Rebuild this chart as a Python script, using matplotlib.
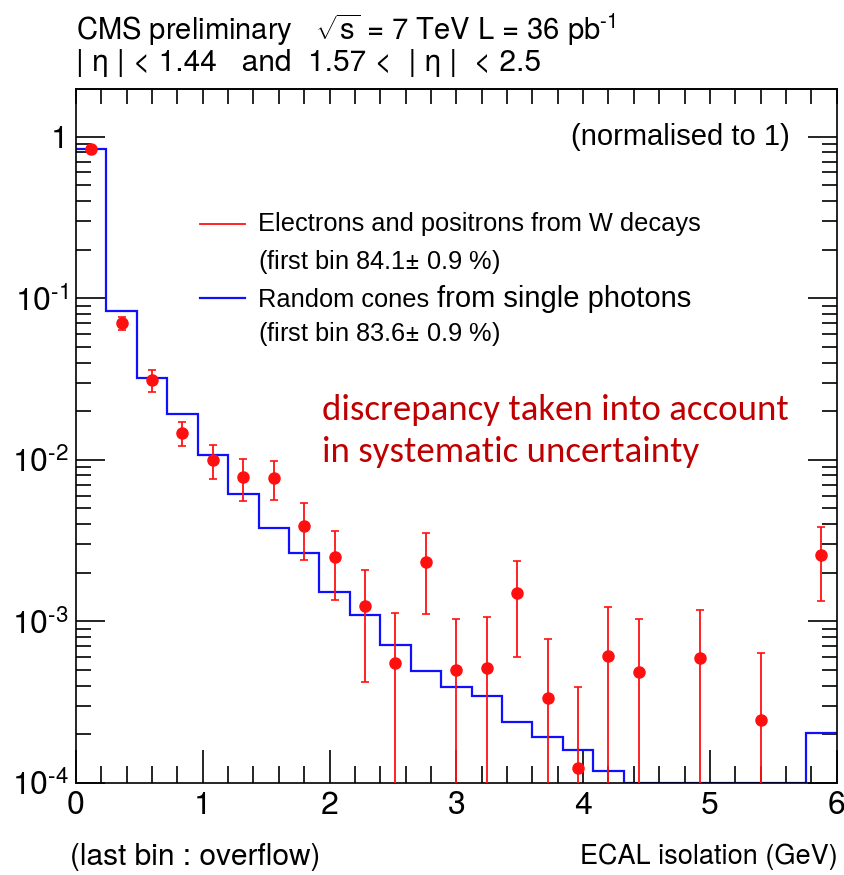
import numpy as np
import matplotlib
matplotlib.use("Agg")
import matplotlib.pyplot as plt
from matplotlib.ticker import FixedLocator, FixedFormatter, LogLocator, NullFormatter, MultipleLocator

# ---------------- data ----------------
bin_edges = np.round(np.arange(0, 6.0001, 0.24), 2)
bin_centers = (bin_edges[:-1] + bin_edges[1:]) / 2

# Electrons/positrons from W decays (red points); zero -> no point
red_vals = [0.841, 0.0703, 0.0312, 0.0147, 0.00997, 0.00787, 0.00776, 0.00390,
            0.00250, 0.00125, 0.000551, 0.00232, 0.000501, 0.000518, 0.00149,
            0.000338, 0.000124, 0.000614, 0.000485, 0.0, 0.000592, 0.0,
            0.000245, 0.0, 0.00258]
red_errs = [0.009, 0.0066, 0.0048, 0.0025, 0.0024, 0.0023, 0.0021, 0.0015,
            0.00115, 0.00083, 0.00058, 0.0012, 0.00053, 0.00055, 0.00089,
            0.00044, 0.00027, 0.00061, 0.00055, 0.0, 0.00059, 0.0,
            0.00039, 0.0, 0.00125]

# Random cones from single photons (blue histogram)
blue_vals = [0.836, 0.0838, 0.0323, 0.0192, 0.01067, 0.00612, 0.00377, 0.00264,
             0.00152, 0.00110, 0.000716, 0.000496, 0.000395, 0.000348, 0.000240,
             0.000194, 0.000160, 0.000119, 0.0, 0.0, 0.0, 0.0, 0.0, 0.0, 0.000205]

x_ticks = [0, 1, 2, 3, 4, 5, 6]
y_ticks = [1e-4, 1e-3, 1e-2, 1e-1, 1]
y_exps = [-4, -3, -2, -1, 0]

YMIN, YMAX = 1e-4, 1.96

# ---------------- style ----------------
HEL = ["TeX Gyre Heros", "Liberation Sans", "DejaVu Sans"]
ARIAL = ["Liberation Sans", "DejaVu Sans"]
CALIBRI = ["Carlito", "Lato", "DejaVu Sans"]
plt.rcParams["font.family"] = HEL
plt.rcParams["mathtext.fontset"] = "custom"
plt.rcParams["mathtext.rm"] = "TeX Gyre Heros"
plt.rcParams["mathtext.it"] = "TeX Gyre Heros:italic"
plt.rcParams["mathtext.bf"] = "TeX Gyre Heros:bold"

RED = "#ff1010"
BLUE = "#1010ff"

fig = plt.figure(figsize=(8.45, 8.75), dpi=100)
ax = fig.add_axes([76/845, 1-783.1/875, 760.7/845, 693.8/875])

# blue histogram
blue_plot = np.clip(np.array(blue_vals), YMIN, None)
ax.stairs(blue_plot, bin_edges, baseline=None, color=BLUE, lw=1.6, zorder=2)

# red points
rv = np.array(red_vals)
re = np.array(red_errs)
mask = rv > 0
lower = np.minimum(re[mask], rv[mask] - 1e-9)
ax.errorbar(bin_centers[mask], rv[mask], yerr=[lower, re[mask]], fmt="o",
            color=RED, ecolor=RED, ms=8, elinewidth=1.3,
            capsize=3, capthick=1.2, zorder=3)

ax.set_yscale("log")
ax.set_xlim(0, 6)
ax.set_ylim(YMIN, YMAX)


def ylabels(use_text):
    out = []
    for e in y_exps:
        if e == 0:
            out.append("1")
        elif use_text:
            out.append(r"$\mathregular{10^{\text{-}%d}}$" % (-e))
        else:
            out.append(r"$\mathregular{10^{%d}}$" % e)
    return out


ax.yaxis.set_major_locator(FixedLocator(y_ticks))
ax.yaxis.set_major_formatter(FixedFormatter(ylabels(True)))
ax.yaxis.set_minor_locator(LogLocator(base=10, subs=np.arange(2, 10)))
ax.yaxis.set_minor_formatter(NullFormatter())
ax.xaxis.set_major_locator(FixedLocator(x_ticks))
ax.xaxis.set_minor_locator(MultipleLocator(0.2))

ax.tick_params(axis="both", which="both", direction="in", color="black")
ax.tick_params(axis="y", which="major", length=21, width=1.2, right=True, labelsize=23, pad=5.5)
ax.tick_params(axis="y", which="minor", length=11, width=1.2, right=True)
ax.tick_params(axis="x", which="major", length=24, width=1.2, top=False, labelsize=23, pad=6)
ax.tick_params(axis="x", which="minor", length=12, width=1.2, top=False)

# top ticks all the same short length
sec = ax.secondary_xaxis("top")
sec.xaxis.set_major_locator(MultipleLocator(0.2))
sec.tick_params(direction="in", length=11, width=1.2, labeltop=False)
sec.spines["top"].set_linewidth(1.2)

for s in ax.spines.values():
    s.set_linewidth(1.2)

# texts inside axes
ax.text(0.9386, 0.931, "(normalised to 1)", transform=ax.transAxes, ha="right",
        va="center", fontsize=21, family=ARIAL)

ax.plot([0.163, 0.222], [0.806, 0.806], transform=ax.transAxes, color=RED, lw=1.3)
ax.plot([0.163, 0.222], [0.699, 0.699], transform=ax.transAxes, color=BLUE, lw=1.6)
ax.text(0.239, 0.806, "Electrons and positrons from W decays", transform=ax.transAxes,
        ha="left", va="center", fontsize=18.3, family=ARIAL)
ax.text(0.239, 0.751, "(first bin 84.1$\\pm$ 0.9 %)", transform=ax.transAxes,
        ha="left", va="center", fontsize=18.3, family=ARIAL)
ax.text(0.239, (783.1-307)/693.8, "Random cones", transform=ax.transAxes,
        ha="left", va="baseline", fontsize=18.3, family=ARIAL)
ax.text((437-76)/760.7, (783.1-307)/693.8, "from single photons", transform=ax.transAxes,
        ha="left", va="baseline", fontsize=21, family=ARIAL)
ax.text(0.239, 0.647, "(first bin 83.6$\\pm$ 0.9 %)", transform=ax.transAxes,
        ha="left", va="center", fontsize=18.3, family=ARIAL)

ax.text(0.323, 0.538, "discrepancy taken into account", transform=ax.transAxes,
        ha="left", va="center", fontsize=26.6, color="#c00000", family=CALIBRI)
ax.text(0.323, 0.477, "in systematic uncertainty", transform=ax.transAxes,
        ha="left", va="center", fontsize=26.6, color="#c00000", family=CALIBRI)

# texts outside
t_title = r"CMS preliminary   $\sqrt{\mathrm{s}}$ = 7 TeV L = 36 pb$^{\mathregular{\text{-}1}}$"
title_artist = fig.text(76/845, 1-40/875, t_title, ha="left", va="baseline", fontsize=21)
fig.text(76/845, 1-71/875, "| η | < 1.44   and  1.57 <  | η |  < 2.5",
         ha="left", va="baseline", fontsize=21.5)
fig.text(70/845, 1-857/875, "(last bin : overflow)", ha="left", va="center", fontsize=21.5)
fig.text(838/845, 1-857/875, "ECAL isolation (GeV)", ha="right", va="center", fontsize=19.5)

# fall back if \text is not supported by this mathtext version
try:
    fig.canvas.draw()
except Exception:
    ax.yaxis.set_major_formatter(FixedFormatter(ylabels(False)))
    title_artist.set_text(r"CMS preliminary   $\sqrt{\mathrm{s}}$ = 7 TeV L = 36 pb$^{\mathregular{-1}}$")

fig.savefig("out.png", dpi=100)
